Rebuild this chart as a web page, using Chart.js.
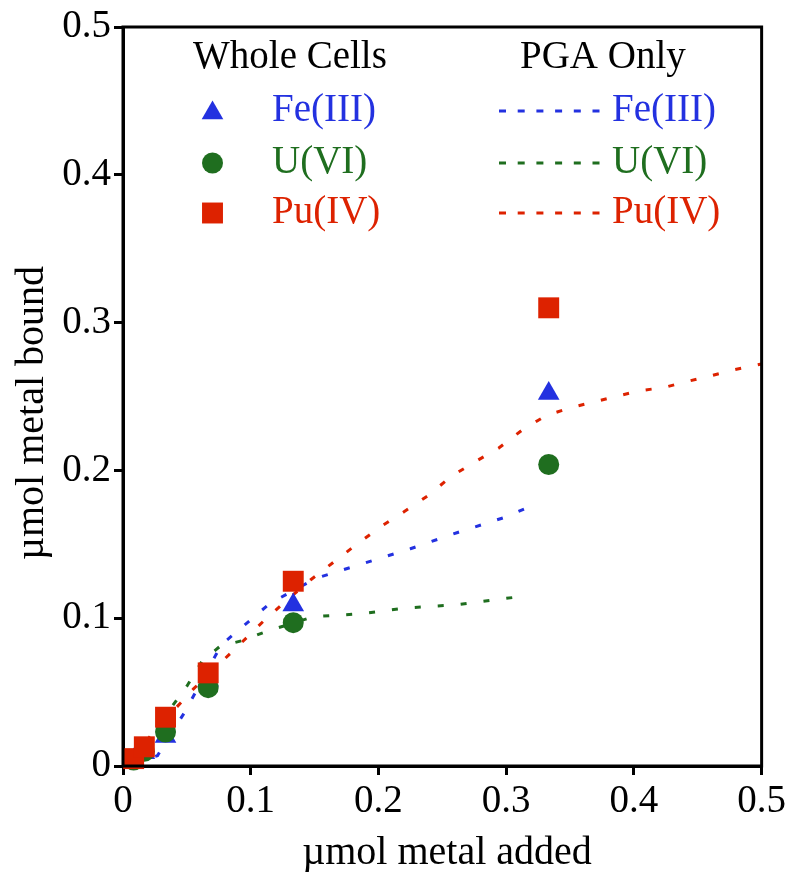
<!DOCTYPE html>
<html>
<head>
<meta charset="utf-8">
<script src="https://cdn.jsdelivr.net/npm/chart.js@4.4.1/dist/chart.umd.min.js"></script>
<style>
html,body{margin:0;padding:0;background:#fff;}
#wrap{width:789px;height:872px;position:relative;}
</style>
</head>
<body>
<div id="wrap"><canvas id="c" width="789" height="872"></canvas></div>
<script>
// ---- data ----
const addedX = [0.00833, 0.0167, 0.0333, 0.0667, 0.1333, 0.3333];
const wholeFe = [0.004, 0.009, 0.020, 0.058, 0.109, 0.252];
const wholeU  = [0.004, 0.010, 0.023, 0.053, 0.097, 0.204];
const wholePu = [0.005, 0.013, 0.033, 0.063, 0.125, 0.310];

const pgaFeX = [0.008, 0.027, 0.048, 0.077, 0.096, 0.115, 0.151, 0.188, 0.225, 0.262, 0.298, 0.317];
const pgaFeY = [0.002, 0.007, 0.036, 0.082, 0.096, 0.110, 0.127, 0.137, 0.147, 0.158, 0.168, 0.175];

const pgaUX = [0.008, 0.022, 0.050, 0.062, 0.076, 0.094, 0.112, 0.149, 0.186, 0.223, 0.260, 0.296, 0.315];
const pgaUY = [0.003, 0.021, 0.054, 0.071, 0.081, 0.085, 0.091, 0.101, 0.103, 0.107, 0.109, 0.113, 0.115];

const pgaPuX = [0.008, 0.022, 0.055, 0.091, 0.110, 0.128, 0.147, 0.165, 0.183, 0.202, 0.220, 0.239, 0.257, 0.276, 0.294, 0.312, 0.331, 0.349, 0.367, 0.386, 0.405, 0.423, 0.441, 0.460, 0.478, 0.500];
const pgaPuY = [0.004, 0.021, 0.052, 0.082, 0.098, 0.112, 0.126, 0.138, 0.150, 0.162, 0.172, 0.183, 0.196, 0.206, 0.215, 0.227, 0.237, 0.242, 0.246, 0.250, 0.254, 0.256, 0.260, 0.264, 0.268, 0.272];

const tickValues = [0, 0.1, 0.2, 0.3, 0.4, 0.5];
const metals = ['Fe(III)', 'U(VI)', 'Pu(IV)'];
const xTitle = 'µmol metal added';
const yTitle = 'µmol metal bound';
const groupTitles = ['Whole Cells', 'PGA Only'];

const BLUE = '#2331e0', GREEN = '#1f6e1f', RED = '#dd2200';
const FONT = '"Liberation Serif", "Times New Roman", serif';

const pts = (xs, ys) => xs.map((x, i) => ({x: x, y: ys[i]}));

const lineDs = (xs, ys, color, order) => ({
  type: 'line', data: pts(xs, ys), borderColor: color, borderWidth: 3,
  borderDash: [6, 17], borderCapStyle: 'butt', pointRadius: 0, fill: false,
  tension: 0, order: order, clip: false
});
const markDs = (ys, color, style, r, order) => ({
  type: 'scatter', data: pts(addedX, ys), backgroundColor: color, borderColor: color,
  borderWidth: 0, pointStyle: style, pointRadius: r, pointHoverRadius: r, order: order, clip: false
});

function drawMarker(ctx, style, x, y, r, color) {
  ctx.save();
  ctx.fillStyle = color;
  ctx.beginPath();
  if (style === 'triangle') {
    const w = r * Math.sin(Math.PI * 2 / 3);
    ctx.moveTo(x, y - r);
    ctx.lineTo(x + w, y + r / 2);
    ctx.lineTo(x - w, y + r / 2);
    ctx.closePath();
  } else if (style === 'circle') {
    ctx.arc(x, y, r, 0, Math.PI * 2);
  } else {
    const s = Math.SQRT1_2 * r;
    ctx.rect(x - s, y - s, 2 * s, 2 * s);
  }
  ctx.fill();
  ctx.restore();
}

const decor = {
  id: 'decor',
  afterDraw(chart) {
    const ctx = chart.ctx, a = chart.chartArea;
    ctx.save();
    // frame
    ctx.strokeStyle = '#000';
    ctx.lineWidth = 3;
    ctx.strokeRect(a.left, a.top, a.right - a.left, a.bottom - a.top);
    // axis titles
    ctx.fillStyle = '#000';
    ctx.font = '40px ' + FONT;
    ctx.textAlign = 'center';
    ctx.textBaseline = 'alphabetic';
    ctx.fillText(xTitle, 447, 864);
    ctx.save();
    ctx.translate(43, 413);
    ctx.rotate(-Math.PI / 2);
    ctx.fillText(yTitle, 0, 0);
    ctx.restore();
    // legend
    ctx.textAlign = 'left';
    ctx.font = '39px ' + FONT;
    ctx.fillText(groupTitles[0], 193, 68);
    ctx.fillText(groupTitles[1], 520, 68);
    const colors = [BLUE, GREEN, RED];
    const styles = ['triangle', 'circle', 'rect'];
    const radii = [12.5, 10.5, 14.8];
    const markY = [113, 163, 213];
    const baseY = [121, 173, 223];
    for (let i = 0; i < 3; i++) {
      drawMarker(ctx, styles[i], 212.5, markY[i], radii[i], colors[i]);
      ctx.fillStyle = colors[i];
      ctx.fillText(metals[i], 272, baseY[i]);
      ctx.fillText(metals[i], 612, baseY[i]);
      ctx.save();
      ctx.strokeStyle = colors[i];
      ctx.lineWidth = 3;
      ctx.setLineDash([7, 11.7]);
      ctx.beginPath();
      const ly = [111, 163, 213][i];
      ctx.moveTo(499, ly);
      ctx.lineTo(600, ly);
      ctx.stroke();
      ctx.restore();
    }
    ctx.restore();
  }
};

new Chart(document.getElementById('c'), {
  data: {
    datasets: [
      markDs(wholePu, RED, 'rect', 14.8, 1),
      markDs(wholeU, GREEN, 'circle', 10.5, 2),
      markDs(wholeFe, BLUE, 'triangle', 12.5, 3),
      lineDs(pgaPuX, pgaPuY, RED, 4),
      lineDs(pgaUX, pgaUY, GREEN, 5),
      lineDs(pgaFeX, pgaFeY, BLUE, 6)
    ]
  },
  options: {
    responsive: false,
    animation: false,
    events: [],
    layout: {padding: {left: 0, right: 26, top: 27, bottom: 0}},
    plugins: {legend: {display: false}, tooltip: {enabled: false}},
    scales: {
      x: {
        type: 'linear', min: 0, max: 0.5,
        afterBuildTicks: s => { s.ticks = tickValues.map(v => ({value: v})); },
        afterFit: s => { s.height = 106; },
        grid: {display: true, drawOnChartArea: false, drawTicks: true, tickLength: 9, lineWidth: 3, color: '#000'},
        border: {display: true, width: 3, color: '#000'},
        ticks: {color: '#000', padding: 3, font: {family: FONT, size: 39}, maxRotation: 0, autoSkip: false}
      },
      y: {
        type: 'linear', min: 0, max: 0.5,
        afterBuildTicks: s => { s.ticks = tickValues.map(v => ({value: v})); },
        afterFit: s => { s.width = 123; },
        grid: {display: true, drawOnChartArea: false, drawTicks: true, tickLength: 9, lineWidth: 3, color: '#000'},
        border: {display: true, width: 3, color: '#000'},
        ticks: {color: '#000', padding: 3, font: {family: FONT, size: 39}, autoSkip: false}
      }
    }
  },
  plugins: [decor]
});
</script>
</body>
</html>
